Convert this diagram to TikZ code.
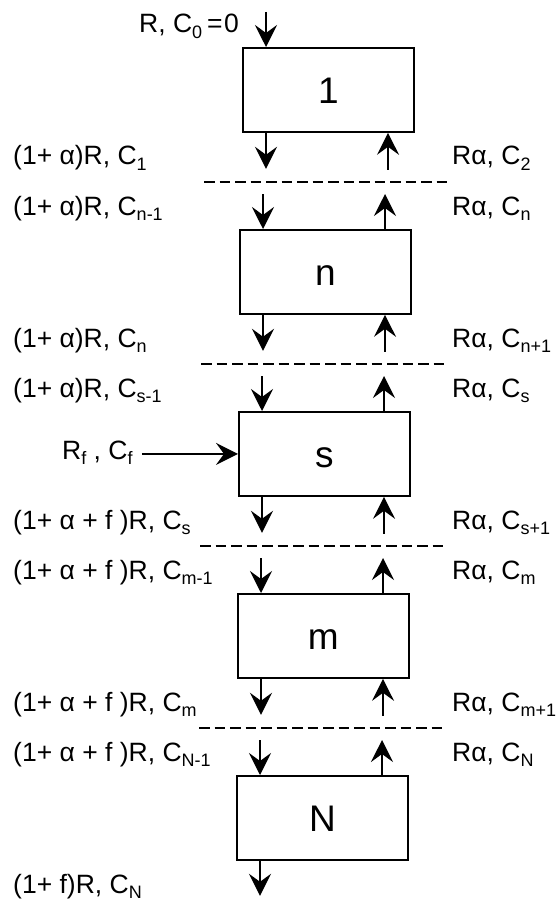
\documentclass[tikz,border=0pt]{standalone}
\usepackage{fontspec}
\setmainfont{Liberation Sans}
\usetikzlibrary{arrows.meta,calc}
% lowered, smaller index used after C and R
\newcommand\idx[1]{\raisebox{-5.5pt}{\fontsize{18}{18}\selectfont #1}}
\begin{document}
\begin{tikzpicture}[x=1pt,y=-1pt,
  stage/.style={draw, line width=1.8pt, minimum width=171pt, minimum height=84pt,
    inner sep=0pt, anchor=north west, font=\fontsize{37}{37}\selectfont,
    text height=26.5pt, text depth=0pt},
  flow/.style={line width=1.6pt, -{Stealth[length=22pt,width=22pt,inset=8pt]}},
  cut/.style={line width=1.5pt, dash pattern=on 10.5pt off 5pt},
  lbl/.style={anchor=base west, inner sep=0pt, font=\fontsize{26.5}{26.5}\selectfont}]

\fill[white] (0,0) rectangle (558,904);
\useasboundingbox (0,0) rectangle (558,904);

% stages of the cascade
\node[stage] (b1) at (242,47)  {1};
\node[stage] (bn) at (239,229) {n};
\node[stage] (bs) at (238,411) {s};
\node[stage] (bm) at (237,593) {m};
\node[stage] (bN) at (236,775) {N};

% streams between neighbouring stages, with the section cut between them
\foreach \a/\b in {b1/bn, bn/bs, bs/bm, bm/bN} {
  \coordinate (\a-cutL) at ($(\a.south west)+(-38,49)$);
  \coordinate (\a-cutR) at ($(\a.south west)+(208,49)$);
  \draw[cut] (\a-cutL) -- (\a-cutR);
  \coordinate (\a-dn) at ($(\a.south west)+(24,36)$);
  \coordinate (\a-up) at ($(\a.south west)+(146,37)$);
  \draw[flow] ($(\a.south west)+(24,0)$) -- (\a-dn);
  \draw[flow] (\a-up) -- ($(\a.south west)+(146,0)$);
  \coordinate (\b-in) at ($(\b.north west)+(24,-35)$);
  \coordinate (\b-out) at ($(\b.north west)+(146,-35)$);
  \draw[flow] (\b-in) -- ($(\b.north west)+(24,0)$);
  \draw[flow] ($(\b.north west)+(146,0)$) -- (\b-out);
}

% inlet at the top and outlet at the bottom
\coordinate (top-in) at ($(b1.north west)+(24,-35)$);
\draw[flow] (top-in) -- ($(b1.north west)+(24,0)$);
\coordinate (bot-out) at ($(bN.south west)+(24,35)$);
\draw[flow] ($(bN.south west)+(24,0)$) -- (bot-out);
\node[lbl] (tin) at (139,33) {R, C\idx{0}\hspace{5pt}=\hspace{1.5pt}0};
\node[lbl] (bout) at (13,893) {(1+ f)R, C\idx{N}};

% feed to stage s
\node[lbl] (feed) at (62,459) {R\idx{f} , C\idx{f}};
\draw[flow] ($(feed.east |- bs.west)+(9,0)$) -- (bs.west);

% stream labels, left column
\node[lbl] (l1a) at (13,165) {(1+ α)R, C\idx{1}};
\node[lbl] (l1b) at (13,215) {(1+ α)R, C\idx{n-1}};
\node[lbl] (l2a) at (13,347) {(1+ α)R, C\idx{n}};
\node[lbl] (l2b) at (13,397) {(1+ α)R, C\idx{s-1}};
\node[lbl] (l3a) at (13,529) {(1+ α + f )R, C\idx{s}};
\node[lbl] (l3b) at (13,579) {(1+ α + f )R, C\idx{m-1}};
\node[lbl] (l4a) at (13,711) {(1+ α + f )R, C\idx{m}};
\node[lbl] (l4b) at (13,761) {(1+ α + f )R, C\idx{N-1}};

% stream labels, right column
\node[lbl] (r1a) at (452,165) {Rα, C\idx{2}};
\node[lbl] (r1b) at (452,215) {Rα, C\idx{n}};
\node[lbl] (r2a) at (452,347) {Rα, C\idx{n+1}};
\node[lbl] (r2b) at (452,397) {Rα, C\idx{s}};
\node[lbl] (r3a) at (452,529) {Rα, C\idx{s+1}};
\node[lbl] (r3b) at (452,579) {Rα, C\idx{m}};
\node[lbl] (r4a) at (452,711) {Rα, C\idx{m+1}};
\node[lbl] (r4b) at (452,761) {Rα, C\idx{N}};
\end{tikzpicture}
\end{document}
